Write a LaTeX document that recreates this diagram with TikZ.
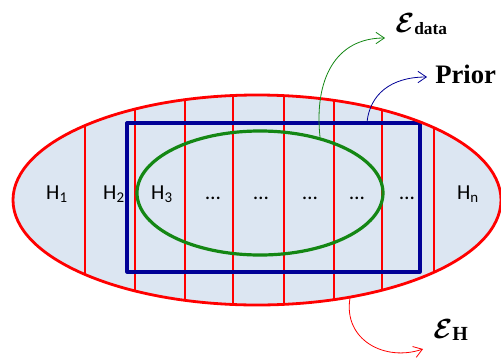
\documentclass[tikz,border=0pt]{standalone}
\usepackage{amsmath,amssymb}
\usepackage{fontspec}
\setmainfont{Carlito}
\newfontfamily\labelserif{Liberation Serif}
\usetikzlibrary{arrows.meta,positioning}
\definecolor{spacefill}{RGB}{220,230,242}
\definecolor{priorblue}{RGB}{0,0,150}
\definecolor{datagreen}{RGB}{20,135,20}
\tikzset{
  every picture/.append style={line cap=round,line join=round},
  hyp space/.style={red,line width=2.1pt},
  hyp cut/.style={red,line width=0.8pt},
  hyp prior/.style={priorblue,line width=2.4pt},
  hyp data/.style={datagreen,line width=2.4pt},
  hyp label/.style={font=\fontsize{16}{18}\selectfont,inner sep=0pt,anchor=base},
  hyp arrow/.style={line width=0.6pt,-{Straight Barb[length=2.2mm,width=3mm]}},
  hyp name/.style={font=\labelserif\bfseries\fontsize{20}{22}\selectfont,inner sep=0pt,anchor=base west}
}
\newcommand{\calE}{{\fontsize{22}{24}\selectfont$\boldsymbol{\mathcal{E}}$}}

\begin{document}
\begin{tikzpicture}[x=0.75pt,y=-0.75pt]
  \useasboundingbox (0,0) rectangle (501,358);
  % hypothesis space
  \fill[spacefill] (257,200) ellipse [x radius=244,y radius=105];
  \begin{scope}
    \clip (257,200) ellipse [x radius=244,y radius=105];
    \foreach \x in {85,135,185,233,284,334,382,434}
      \draw[hyp cut] (\x,80) -- (\x,320);
  \end{scope}
  \draw[hyp prior] (127,123) rectangle (420,272);
  \draw[hyp data] (260,193) ellipse [x radius=123,y radius=62];
  \draw[hyp space] (257,200) ellipse [x radius=244,y radius=105];

  % cells
  \node[hyp label] (h1) at (57,199) {H$_\text{1}$};
  \node[hyp label] (h2) at (114,199) {H$_\text{2}$};
  \node[hyp label] (h3) at (162,199) {H$_\text{3}$};
  \node[hyp label] (d1) at (213,199) {…};
  \node[hyp label] (d2) at (261,199) {…};
  \node[hyp label] (d3) at (310,199) {…};
  \node[hyp label] (d4) at (357,199) {…};
  \node[hyp label] (d5) at (407,199) {…};
  \node[hyp label] (hn) at (468,199) {H$_\text{n}$};

  % names
  \node[hyp name] (edata) at (395,32) {\calE\raisebox{-2pt}{\fontsize{13}{14}\selectfont data}};
  \node[hyp name] (prior) at (435,83) {Prior};
  \node[hyp name] (eh) at (433,338) {\calE\raisebox{-2pt}{\fontsize{15}{16}\selectfont H}};

  \coordinate (dataout) at (320,137);
  \coordinate (datatip) at (385,38);
  \coordinate (priorout) at (367,122);
  \coordinate (priortip) at (427,77);
  \coordinate (spaceout) at (350,298);
  \coordinate (spacetip) at (423,349);
  \draw[hyp arrow,datagreen] (dataout) .. controls (314,80) and (335,38) .. (datatip);
  \draw[hyp arrow,priorblue] (priorout) .. controls (370,95) and (390,77) .. (priortip);
  \draw[hyp arrow,red] (spaceout) .. controls (343,340) and (385,362) .. (spacetip);
\end{tikzpicture}
\end{document}
